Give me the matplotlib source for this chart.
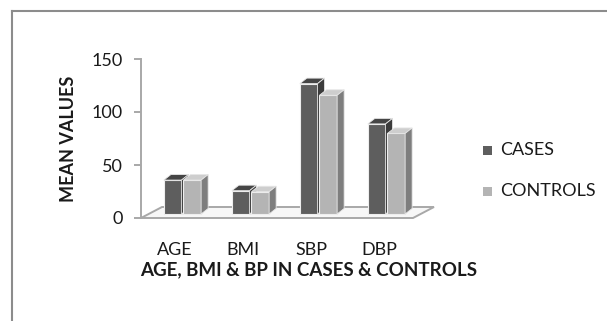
import matplotlib
matplotlib.use('Agg')
import matplotlib.pyplot as plt
from matplotlib.patches import Polygon, Rectangle
from matplotlib.lines import Line2D
import numpy as np

categories = ['AGE', 'BMI', 'SBP', 'DBP']
cases = [32, 22, 123, 85]
controls = [32, 21, 112, 76]
series_names = ['CASES', 'CONTROLS']

plt.rcParams['font.family'] = ['Lato', 'DejaVu Sans']

W, H = 607, 321
fig = plt.figure(figsize=(W / 100, H / 100), dpi=100)
ax = fig.add_axes([141 / W, (H - 218) / H, 272 / W, 159 / H])
ax.set_xlim(-0.5, 3.5)
ax.set_ylim(0, 150)

# pixel -> data unit conversion for the fake 3d offsets
px_x = 4 / 272
px_y = 150 / 159
plane = (7.5 * px_x, 4 * px_y)     # bars stand a bit behind the floor front edge
depth = (7 * px_x, 5.5 * px_y)     # bar depth
floor_d = (21 * px_x, 11 * px_y)   # floor depth

# floor
floor = Polygon([(-0.5, 0), (3.5, 0), (3.5 + floor_d[0], floor_d[1]),
                 (-0.5 + floor_d[0], floor_d[1])],
                closed=True, facecolor='#f7f7f7', edgecolor='#a8a8a8',
                lw=1.4, clip_on=False, zorder=1)
ax.add_patch(floor)

x = np.arange(len(categories))
w = 0.26
styles = [
    (-0.144, cases, '#5e5e5e', '#454545', '#3c3c3c'),
    (0.144, controls, '#b4b4b4', '#cecece', '#7e7e7e'),
]
z = 2
for off, vals, front, top_c, side_c in styles:
    xs = x + off + plane[0]
    ax.bar(xs, vals, width=w, bottom=plane[1], color=front,
           edgecolor='#eeeeee', lw=0.8, clip_on=False, zorder=z)
    for xc, v in zip(xs, vals):
        x0, x1 = xc - w / 2, xc + w / 2
        y0, y1 = plane[1], plane[1] + v
        top = [(x0, y1), (x1, y1), (x1 + depth[0], y1 + depth[1]),
               (x0 + depth[0], y1 + depth[1])]
        side = [(x1, y0), (x1 + depth[0], y0 + depth[1]),
                (x1 + depth[0], y1 + depth[1]), (x1, y1)]
        ax.add_patch(Polygon(top, closed=True, facecolor=top_c,
                             edgecolor='#e6e6e6', lw=0.6, clip_on=False, zorder=z))
        ax.add_patch(Polygon(side, closed=True, facecolor=side_c,
                             edgecolor='#e6e6e6', lw=0.6, clip_on=False, zorder=z))
    z += 1

for s in ['top', 'right', 'bottom']:
    ax.spines[s].set_visible(False)
ax.spines['left'].set_color('#a8a8a8')
ax.spines['left'].set_linewidth(1.4)
ax.set_yticks([0, 50, 100, 150])
ax.tick_params(axis='y', direction='out', length=5, width=1.4, color='#a8a8a8',
               labelsize=13, pad=8, labelcolor='#1a1a1a')
ax.set_xticks(x)
ax.set_xticklabels(categories)
ax.tick_params(axis='x', length=0, labelsize=13, pad=17, labelcolor='#1a1a1a')

fig.text(309 / W, 1 - 270 / H, 'AGE, BMI & BP IN CASES & CONTROLS',
         ha='center', va='center', fontsize=13.5, fontweight='bold', color='#1a1a1a')
fig.text(68 / W, 1 - 139 / H, 'MEAN VALUES', rotation=90, ha='center',
         va='center', fontsize=13, fontweight='bold', color='#1a1a1a')

# legend
for name, col, yc in zip(series_names, ['#5e5e5e', '#b4b4b4'], [150, 191]):
    fig.add_artist(Rectangle((483 / W, 1 - (yc + 4.5) / H), 9 / W, 9 / H,
                             transform=fig.transFigure, facecolor=col,
                             edgecolor='none'))
    fig.text(500 / W, 1 - yc / H, name, ha='left', va='center',
             fontsize=13, color='#1a1a1a')

# outer chart border (runs off the right and bottom edges)
fig.add_artist(Line2D([12 / W, 12 / W], [1 - 11 / H, 0], transform=fig.transFigure,
                      color='#8c8c8c', lw=1.5))
fig.add_artist(Line2D([12 / W, 1], [1 - 11 / H, 1 - 11 / H], transform=fig.transFigure,
                      color='#8c8c8c', lw=1.5))

fig.savefig('out.png', dpi=100)
